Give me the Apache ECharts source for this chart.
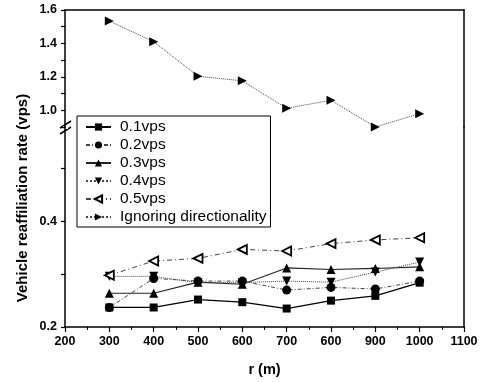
<!DOCTYPE html>
<html>
<head>
<meta charset="utf-8">
<script src="https://cdn.jsdelivr.net/npm/echarts@6/dist/echarts.min.js"></script>
<style>
  html, body { margin: 0; padding: 0; background: #fff; }
  #chart { width: 483px; height: 382px; }
</style>
</head>
<body>
<div id="chart"></div>
<script>
// data
const rValues = [300, 400, 500, 600, 700, 800, 900, 1000];
const vps01 = [0.237, 0.237, 0.252, 0.247, 0.235, 0.250, 0.259, 0.284];
const vps02 = [0.237, 0.292, 0.287, 0.287, 0.270, 0.275, 0.272, 0.287];
const vps03 = [0.264, 0.264, 0.285, 0.281, 0.312, 0.309, 0.311, 0.314];
const vps04 = [0.296, 0.296, 0.284, 0.284, 0.287, 0.285, 0.304, 0.323];
const vps05 = [0.298, 0.325, 0.330, 0.347, 0.344, 0.358, 0.365, 0.369];
const ignoring = [1.534, 1.41, 1.204, 1.176, 1.012, 1.06, 0.90, 0.98];

const xTickLabels = ['200', '300', '400', '500', '600', '700', '600', '900', '1000', '1100'];
const upperYTicks = ['1.0', '1.2', '1.4', '1.6'];
const lowerYTicks = ['0.2', '0.4'];

function pairs(ys) {
  return rValues.map((x, i) => [x, ys[i]]);
}

const font = 'Liberation Sans, Arial, sans-serif';
const black = '#000';

let chart = echarts.init(document.getElementById('chart'));

let axisLine = { show: true, lineStyle: { color: black, width: 1.5 } };
let tickLabel = { color: black, fontFamily: font, fontSize: 12.5, fontWeight: 'bold' };

function yFormatter(list) {
  return function(v) {
    let s = v.toFixed(1);
    return list.indexOf(s) >= 0 ? s : '';
  };
}

let option = {
  animation: false,
  backgroundColor: '#fff',
  grid: [
    { left: 65, right: 19, top: 10, height: 117 },
    { left: 65, right: 19, top: 127, bottom: 54 }
  ],
  xAxis: [
    {
      gridIndex: 0, type: 'value', min: 200, max: 1100, position: 'top',
      axisLine: axisLine, axisTick: { show: false }, axisLabel: { show: false },
      splitLine: { show: false }
    },
    {
      gridIndex: 1, type: 'value', min: 200, max: 1100, interval: 100,
      axisLine: axisLine,
      axisTick: { show: true, length: 5, lineStyle: { color: black, width: 1.2 } },
      minorTick: { show: true, splitNumber: 2, length: 3, lineStyle: { color: black } },
      axisLabel: Object.assign({}, tickLabel, {
        margin: 8,
        formatter: v => xTickLabels[Math.round((v - 200) / 100)]
      }),
      splitLine: { show: false },
      name: 'r (m)', nameLocation: 'middle', nameGap: 35,
      nameTextStyle: { color: black, fontFamily: font, fontSize: 14.5, fontWeight: 'bold' }
    }
  ],
  yAxis: [
    {
      gridIndex: 0, type: 'value', min: 0.9, max: 1.6, interval: 0.1,
      axisLine: axisLine,
      axisTick: { show: true, length: 4, lineStyle: { color: black, width: 1.2 } },
      axisLabel: Object.assign({}, tickLabel, { formatter: yFormatter(upperYTicks) }),
      splitLine: { show: false }
    },
    {
      gridIndex: 1, type: 'value', min: 0.2, max: 0.579, interval: 0.1,
      axisLine: axisLine,
      axisTick: { show: true, length: 4, lineStyle: { color: black, width: 1.2 } },
      axisLabel: Object.assign({}, tickLabel, { formatter: yFormatter(lowerYTicks) }),
      splitLine: { show: false }
    },
    {
      gridIndex: 0, type: 'value', min: 0.9, max: 1.6, position: 'right',
      axisLine: axisLine, axisTick: { show: false }, axisLabel: { show: false },
      splitLine: { show: false }
    },
    {
      gridIndex: 1, type: 'value', min: 0.2, max: 0.579, position: 'right',
      axisLine: axisLine, axisTick: { show: false }, axisLabel: { show: false },
      splitLine: { show: false }
    }
  ],
  legend: {
    orient: 'vertical',
    left: 77, top: 116,
    padding: [3, 4, 2, 8],
    itemGap: 2,
    itemWidth: 25, itemHeight: 9,
    backgroundColor: '#fff',
    borderColor: black, borderWidth: 1,
    textStyle: { color: black, fontFamily: font, fontSize: 15.5, padding: [0, 0, 0, 4] },
    data: ['0.1vps', '0.2vps', '0.3vps', '0.4vps', '0.5vps', 'Ignoring directionality']
  },
  series: [
    {
      name: '0.1vps', type: 'line', xAxisIndex: 1, yAxisIndex: 1,
      data: pairs(vps01), symbol: 'rect', symbolSize: 8,
      itemStyle: { color: black },
      lineStyle: { color: black, width: 1.3 }
    },
    {
      name: '0.2vps', type: 'line', xAxisIndex: 1, yAxisIndex: 1,
      data: pairs(vps02), symbol: 'circle', symbolSize: 9,
      itemStyle: { color: black },
      lineStyle: { color: '#444', width: 1, type: [4, 2, 1, 2] }
    },
    {
      name: '0.3vps', type: 'line', xAxisIndex: 1, yAxisIndex: 1,
      data: pairs(vps03), symbol: 'triangle', symbolSize: 9,
      itemStyle: { color: black },
      lineStyle: { color: '#222', width: 1.1 }
    },
    {
      name: '0.4vps', type: 'line', xAxisIndex: 1, yAxisIndex: 1,
      data: pairs(vps04), symbol: 'triangle', symbolRotate: 180, symbolSize: 9,
      itemStyle: { color: black },
      lineStyle: { color: '#444', width: 1, type: 'dotted' }
    },
    {
      name: '0.5vps', type: 'line', xAxisIndex: 1, yAxisIndex: 1,
      data: pairs(vps05), symbol: 'triangle', symbolRotate: 90, symbolSize: 9,
      itemStyle: { color: '#fff', borderColor: black, borderWidth: 1.8 },
      lineStyle: { color: '#444', width: 1, type: [5, 3, 1, 3] }
    },
    {
      name: 'Ignoring directionality', type: 'line', xAxisIndex: 0, yAxisIndex: 0,
      data: pairs(ignoring), symbol: 'triangle', symbolRotate: -90, symbolSize: 9,
      itemStyle: { color: black },
      lineStyle: { color: '#444', width: 1, type: 'dotted' }
    }
  ],
  graphic: [
    {
      type: 'text',
      rotation: Math.PI / 2,
      style: {
        text: 'Vehicle reaffiliation rate (vps)',
        fill: black, font: 'bold 15px ' + font,
        textAlign: 'center', textVerticalAlign: 'middle'
      },
      x: 23, y: 198
    },
    {
      type: 'group', silent: true,
      children: [
        { type: 'line', shape: { x1: 60, y1: 128, x2: 71, y2: 121 }, style: { stroke: black, lineWidth: 1.5 } },
        { type: 'line', shape: { x1: 60, y1: 134, x2: 71, y2: 127 }, style: { stroke: black, lineWidth: 1.5 } },
        { type: 'rect', shape: { x: 63, y: 126, width: 5, height: 3 }, style: { fill: '#fff' } }
      ]
    }
  ]
};

chart.setOption(option);
</script>
</body>
</html>
